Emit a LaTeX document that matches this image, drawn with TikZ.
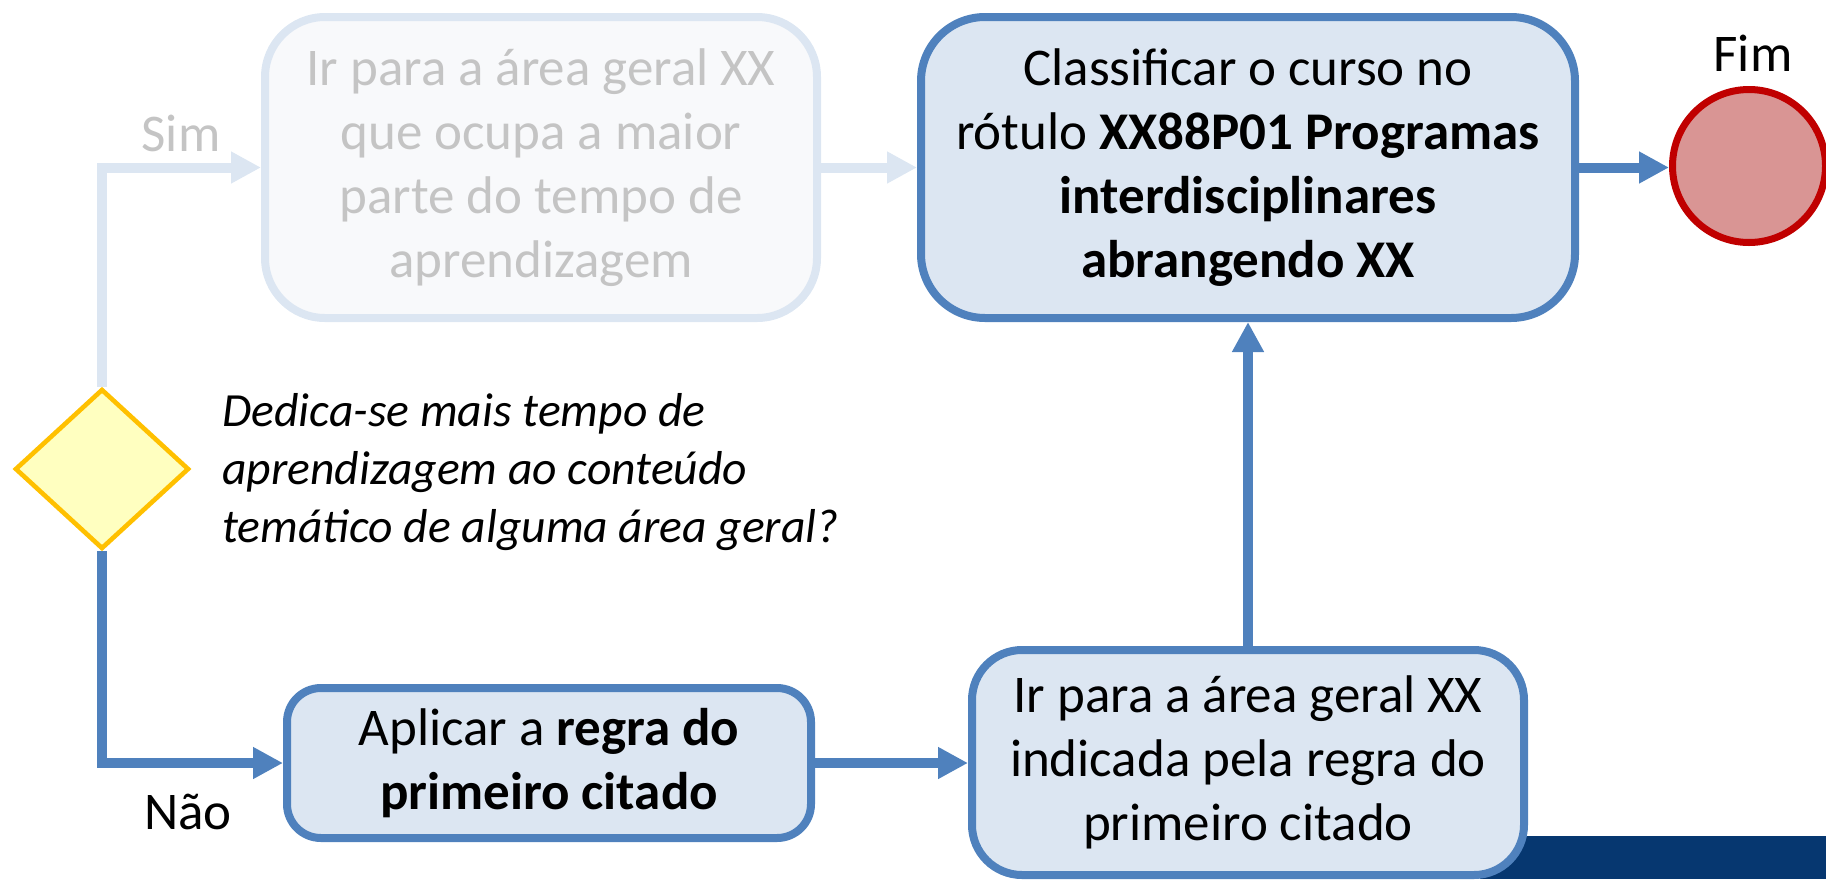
\documentclass[tikz,border=0pt]{standalone}
\usepackage{fontspec}
\setmainfont{Carlito}
\usetikzlibrary{shapes.geometric,arrows.meta}
\definecolor{bblue}{RGB}{79,129,189}
\definecolor{bfill}{RGB}{220,230,242}
\definecolor{gline}{RGB}{220,230,242}
\definecolor{gfill}{RGB}{248,249,251}
\definecolor{gtext}{RGB}{196,196,196}
\definecolor{dfill}{RGB}{255,255,192}
\definecolor{dline}{RGB}{255,192,0}
\definecolor{cfill}{RGB}{217,149,148}
\definecolor{cline}{RGB}{192,0,0}
\definecolor{darkbar}{RGB}{6,55,112}
\begin{document}
\begin{tikzpicture}[x=0.5pt,y=-0.5pt,
  boxtext/.style={font=\fontsize{26.5}{32}\selectfont, align=center, inner sep=0pt},
  bluebox/.style={boxtext, draw=bblue, fill=bfill, line width=4pt},
  greybox/.style={boxtext, draw=gline, fill=gfill, text=gtext, line width=4pt},
  lbl/.style={font=\fontsize{26.5}{30}\selectfont, inner sep=0pt},
  bluearrow/.style={draw=bblue, line width=5pt, -{Triangle[length=15pt,width=15pt]}},
  greyarrow/.style={draw=gline, line width=5pt, -{Triangle[length=15pt,width=15pt]}},
]
\useasboundingbox (0,0) rectangle (1826,879);
\fill[darkbar] (1480,836) rectangle (1826,879);

\node[greybox, minimum width=276pt, minimum height=150.5pt, rounded corners=30pt]
  (grey) at (541,167.5) {Ir para a área geral XX\\que ocupa a maior\\parte do tempo de\\aprendizagem};
\node[bluebox, minimum width=327pt, minimum height=150.5pt, rounded corners=32pt]
  (top) at (1248,167.5) {Classificar o curso no\\rótulo \textbf{XX88P01 Programas}\\\textbf{interdisciplinares}\\\textbf{abrangendo XX}};
\node[bluebox, minimum width=262pt, minimum height=75pt, rounded corners=17pt]
  (apl) at (549,763) {Aplicar a \textbf{regra do}\\\textbf{primeiro citado}};
\node[bluebox, minimum width=276pt, minimum height=112.5pt, rounded corners=25pt]
  (ir) at (1248,762.5) {Ir para a área geral XX\\indicada pela regra do\\primeiro citado};
\node[diamond, draw=dline, fill=dfill, line width=2.3pt, inner sep=0pt,
  minimum width=87pt, minimum height=80pt] (dia) at (102,469) {};
\node[circle, draw=cline, fill=cfill, line width=3.5pt, inner sep=0pt,
  minimum size=76.5pt] (fim) at (1749,166) {};

\node[lbl, text=gtext] (sim) at (181,133) {Sim};
\node[lbl] (nao) at (188,812) {Não};
\node[lbl] (fimlbl) at (1753,53) {Fim};
\node[anchor=west, align=left, inner sep=0pt, font=\itshape\fontsize{23.8}{29}\selectfont]
  (q) at (222,472) {Dedica-se mais tempo de\\aprendizagem ao conteúdo\\temático de alguma área geral?};

\draw[greyarrow] (dia.north) |- (grey.west);
\draw[greyarrow] (grey.east) -- (top.west);
\draw[bluearrow] (dia.south) |- (apl.west);
\draw[bluearrow] (apl.east) -- (apl.east -| ir.west);
\draw[bluearrow] (ir.north) -- (top.south);
\draw[bluearrow] (top.east) -- (top.east -| fim.west);
\end{tikzpicture}
\end{document}
